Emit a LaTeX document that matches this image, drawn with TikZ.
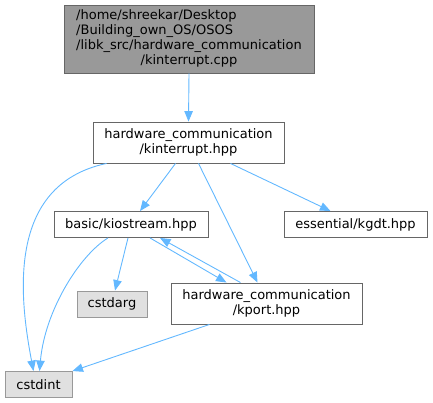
\documentclass[tikz,border=0pt]{standalone}
\usepackage{fontspec}
\setmainfont{DejaVu Sans}
\usepackage{xcolor}
\usetikzlibrary{arrows.meta,positioning}
\definecolor{edgeblue} {HTML}{63B8FF}
\definecolor{boxline}  {HTML}{666666}
\definecolor{curfill}  {HTML}{999999}
\definecolor{sysfill}  {HTML}{E0E0E0}
\definecolor{sysline}  {HTML}{999999}
\tikzset{
  file/.style    ={draw=boxline, fill=white, line width=0.9pt,
                   align=center, inner sep=0pt,
                   font=\fontsize{13}{15}\selectfont},
  curfile/.style ={file, fill=curfill},
  sysfile/.style ={file, draw=sysline, fill=sysfill},
  incl/.style    ={-{Triangle[length=10.5pt,width=8.5pt]}, line width=0.9pt,
                   color=edgeblue},
}

\begin{document}
\begin{tikzpicture}[x=1pt,y=-1pt]
  \useasboundingbox (0,0) rectangle (433,403);
  % files
  \node[curfile,minimum width=250pt,minimum height=68pt] (cpp) at (189,39)
    {\begin{tabular}{@{}l@{}}/home/shreekar/Desktop\\/Building\_own\_OS/OSOS\\
     /libk\_src/hardware\_communication\\
     \multicolumn{1}{@{}c@{}}{/kinterrupt.cpp}\end{tabular}};
  \node[file,minimum width=191pt,minimum height=41pt] (hpp) at (188.5,142.5)
    {hardware\_communication\\/kinterrupt.hpp};
  \node[file,minimum width=154pt,minimum height=26pt] (kio) at (131,224.5)
    {basic/kiostream.hpp};
  \node[file,minimum width=143pt,minimum height=26pt] (kgdt) at (355.5,224.5)
    {essential/kgdt.hpp};
  \node[sysfile,minimum width=70pt,minimum height=26pt] (arg) at (112,304)
    {cstdarg};
  \node[file,minimum width=191pt,minimum height=41pt] (kport) at (266.5,303.5)
    {hardware\_communication\\/kport.hpp};
  \node[sysfile,minimum width=67pt,minimum height=26pt] (int) at (38.5,384.5)
    {cstdint};
  % includes
  \draw[incl] (cpp.south) -- (hpp.north);
  \draw[incl] ([xshift=14pt]hpp.south west) .. controls (5,185) and (20,300)
    .. ([xshift=-5pt]int.north);
  \draw[incl] ([xshift=-13pt]hpp.south) -- ([xshift=9pt]kio.north);
  \draw[incl] ([xshift=10pt]hpp.south) -- ([xshift=-9pt]kport.north);
  \draw[incl] ([xshift=42pt]hpp.south) -- ([xshift=-25pt]kgdt.north);
  \draw[incl] ([xshift=-23pt]kio.south) .. controls (80,255) and (45,310)
    .. ([xshift=1pt]int.north);
  \draw[incl] ([xshift=-3pt]kio.south) -- ([xshift=3pt]arg.north);
  \draw[incl] ([xshift=19pt]kio.south) -- ([xshift=-40pt]kport.north);
  \draw[incl] ([xshift=-26pt]kport.north) -- ([xshift=29pt]kio.south);
  \draw[incl] ([xshift=-57pt]kport.south) -- (int.north east);
\end{tikzpicture}
\end{document}
